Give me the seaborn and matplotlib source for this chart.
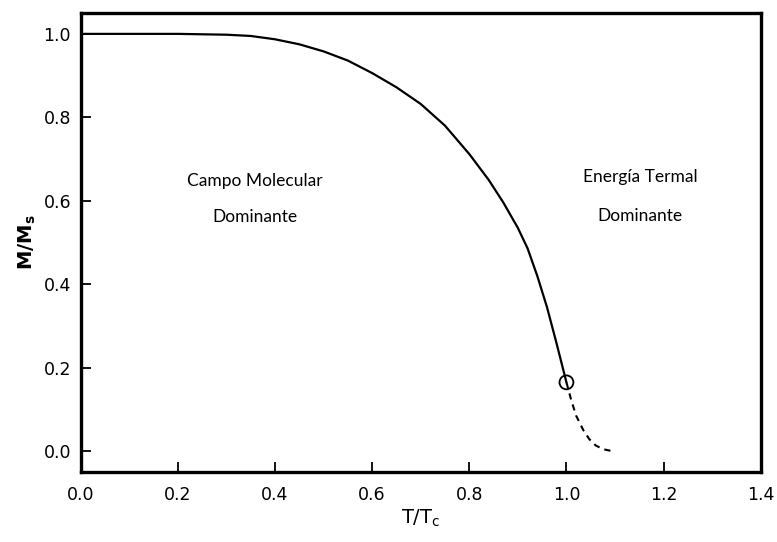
import matplotlib
matplotlib.use("Agg")
import matplotlib.pyplot as plt
import seaborn as sns
import pandas as pd

# reduced magnetisation curve
t_solid = [0.0, 0.1, 0.2, 0.25, 0.3, 0.35, 0.4, 0.45, 0.5, 0.55, 0.6, 0.65, 0.7, 0.75,
           0.8, 0.84, 0.87, 0.9, 0.92, 0.94, 0.96, 0.98, 1.0]
m_solid = [1.0, 1.0, 1.0, 0.999, 0.998, 0.995, 0.987, 0.975, 0.958, 0.936, 0.906, 0.872, 0.832, 0.780,
           0.712, 0.650, 0.596, 0.535, 0.486, 0.420, 0.345, 0.257, 0.165]

t_dashed = [1.0, 1.01, 1.02, 1.035, 1.047, 1.06, 1.075, 1.095]
m_dashed = [0.165, 0.122, 0.085, 0.050, 0.029, 0.014, 0.005, 0.0]

t_curie = [1.0]
m_curie = [0.165]

x_ticks = [0.0, 0.2, 0.4, 0.6, 0.8, 1.0, 1.2, 1.4]
y_ticks = [0.0, 0.2, 0.4, 0.6, 0.8, 1.0]

sns.set_style("ticks")
plt.rcParams["font.family"] = ["DejaVu Sans"]
plt.rcParams["text.color"] = "black"
plt.rcParams["axes.labelcolor"] = "black"
plt.rcParams["xtick.color"] = "black"
plt.rcParams["ytick.color"] = "black"

fig = plt.figure(figsize=(7.77, 5.42), dpi=100)
ax = fig.add_axes([0.104, 0.129, 0.875, 0.847])

df_solid = pd.DataFrame({"t": t_solid, "m": m_solid})
df_dashed = pd.DataFrame({"t": t_dashed, "m": m_dashed})
df_curie = pd.DataFrame({"t": t_curie, "m": m_curie})

sns.lineplot(data=df_solid, x="t", y="m", ax=ax, color="black", linewidth=1.6, sort=False)
sns.lineplot(data=df_dashed, x="t", y="m", ax=ax, color="black", linewidth=1.5,
             linestyle=(0, (3, 2.5)), sort=False)
sns.scatterplot(data=df_curie, x="t", y="m", ax=ax, s=100, facecolor="none",
                edgecolor="black", linewidth=1.3, zorder=5)

ax.set_xlim(0, 1.4)
ax.set_ylim(-0.05, 1.05)
ax.set_xticks(x_ticks)
ax.set_yticks(y_ticks)
ax.set_xticklabels([f"{v:.1f}" for v in x_ticks])
ax.set_yticklabels([f"{v:.1f}" for v in y_ticks])
ax.tick_params(direction="in", length=7, width=1.3, labelsize=12.5, colors="black")
ax.tick_params(axis="x", pad=10)
ax.tick_params(axis="y", pad=7)

for sp in ax.spines.values():
    sp.set_linewidth(2.4)
    sp.set_color("black")

ax.set_xlabel(r"$\mathregular{T/T_c}$", fontsize=14, labelpad=3, color="black")
ax.set_ylabel(r"$\mathregular{M/M_s}$", fontsize=14, fontweight="bold", labelpad=4, color="black")

txt = dict(ha="center", va="center", fontsize=12.5, color="black", family=["Lato", "DejaVu Sans"])
ax.text(0.358, 0.647, "Campo Molecular", **txt)
ax.text(0.358, 0.561, "Dominante", **txt)
ax.text(1.152, 0.657, "Energía Termal", **txt)
ax.text(1.152, 0.564, "Dominante", **txt)

fig.savefig("out.png", dpi=100)
